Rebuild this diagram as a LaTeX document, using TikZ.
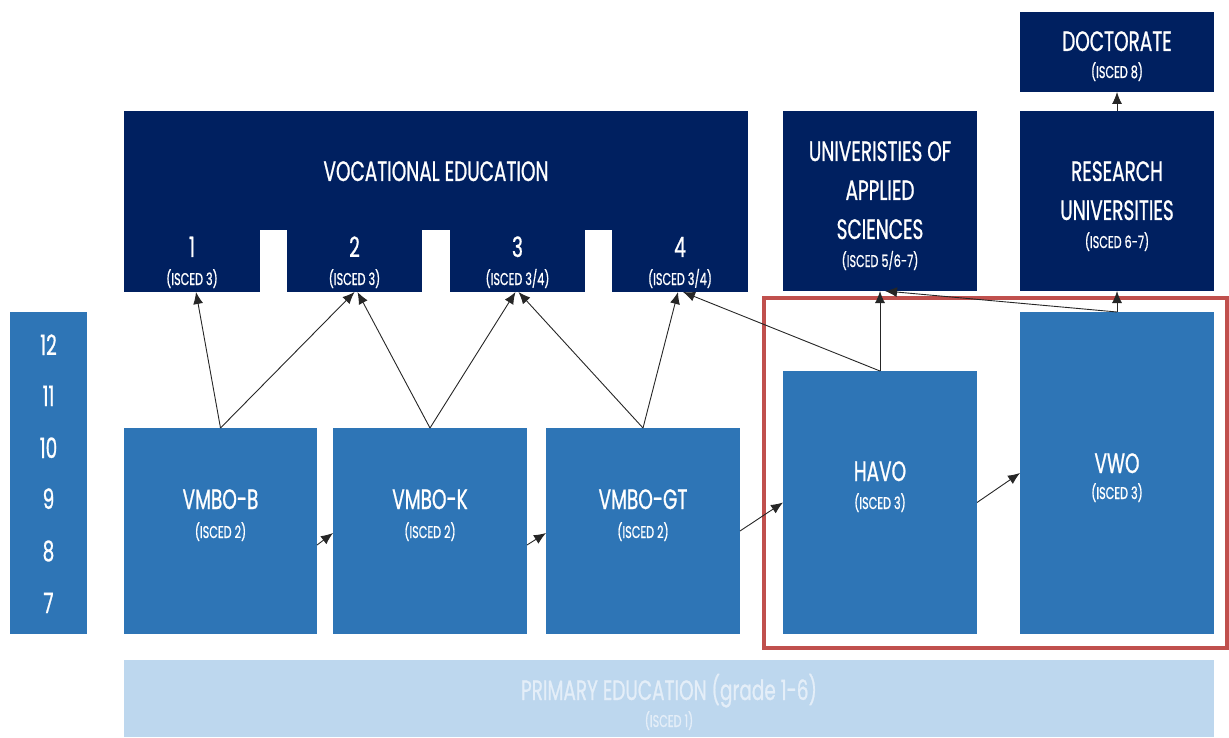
\documentclass[tikz,border=0pt]{standalone}
\usepackage{fontspec}
\setmainfont{Poppins}[FakeStretch=0.66,FakeBold=0.8,AutoFakeBold=0.8]
\usetikzlibrary{arrows.meta,calc}
\definecolor{navy}{HTML}{002060}
\definecolor{midblue}{HTML}{2E75B6}
\definecolor{lightblue}{HTML}{BDD7EE}
\definecolor{redbox}{HTML}{C0504D}
\definecolor{paletxt}{HTML}{E4EEF8}
\begin{document}
\begin{tikzpicture}[x=1pt,y=-1pt,
  navybox/.style={fill=navy,draw=none,inner sep=0,outer sep=0,anchor=north west},
  bluebox/.style={fill=midblue,draw=none,inner sep=0,outer sep=0,anchor=north west},
  bigtxt/.style={anchor=base,inner sep=0,text=white,font=\fontsize{28}{30}\selectfont},
  smalltxt/.style={anchor=base,inner sep=0,text=white,font=\fontsize{17}{19}\selectfont},
  conn/.style={draw=black!85,line width=0.9pt,-{Latex[length=12pt,width=10pt]}},
]
\useasboundingbox (0,0) rectangle (1229,738);
% grade bar
\node[bluebox,minimum width=77pt,minimum height=322pt] (grades) at (10,312) {};
\foreach \g/\yy in {12/355,11/406,10/458,9/509,8/561,7/613}
  \node[bigtxt] (g\g) at (48.5,\yy) {\g};
% vocational education
\node[navybox,minimum width=624pt,minimum height=119pt] (voc) at (124,111) {};
\node[navybox,minimum width=136pt,minimum height=63pt] (t1) at (124,229) {};
\node[navybox,minimum width=135pt,minimum height=63pt] (t2) at (287,229) {};
\node[navybox,minimum width=135pt,minimum height=63pt] (t3) at (450,229) {};
\node[navybox,minimum width=136pt,minimum height=63pt] (t4) at (612,229) {};
\node[bigtxt] (voct) at (436,181) {VOCATIONAL EDUCATION};
\node[bigtxt] (t1n) at (192,257) {1};
\node[bigtxt] (t2n) at (354.5,257) {2};
\node[bigtxt] (t3n) at (517.5,257) {3};
\node[bigtxt] (t4n) at (680,257) {4};
\node[smalltxt] (t1i) at (192,285) {(ISCED 3)};
\node[smalltxt] (t2i) at (354.5,285) {(ISCED 3)};
\node[smalltxt] (t3i) at (517.5,285) {(ISCED 3/4)};
\node[smalltxt] (t4i) at (680,285) {(ISCED 3/4)};
% universities of applied sciences
\node[navybox,minimum width=194pt,minimum height=180pt] (uas) at (783,111) {};
\node[bigtxt] (uas1) at (880,161) {UNIVERISTIES OF};
\node[bigtxt] (uas2) at (880,200) {APPLIED};
\node[bigtxt] (uas3) at (880,239) {SCIENCES};
\node[smalltxt] (uasi) at (880,267) {(ISCED 5/6-7)};
% research universities
\node[navybox,minimum width=194pt,minimum height=180pt] (ru) at (1020,111) {};
\node[bigtxt] (ru1) at (1117,181) {RESEARCH};
\node[bigtxt] (ru2) at (1117,220) {UNIVERSITIES};
\node[smalltxt] (rui) at (1117,248) {(ISCED 6-7)};
% doctorate
\node[navybox,minimum width=194pt,minimum height=80pt] (doc) at (1020,12) {};
\node[bigtxt] (doct) at (1117,51) {DOCTORATE};
\node[smalltxt] (doci) at (1117,78) {(ISCED 8)};
% secondary
\node[bluebox,minimum width=193pt,minimum height=206pt] (vb) at (124,428) {};
\node[bigtxt] (vbt) at (220.5,509) {VMBO-B};
\node[smalltxt] (vbi) at (220.5,538) {(ISCED 2)};
\node[bluebox,minimum width=194pt,minimum height=206pt] (vk) at (333,428) {};
\node[bigtxt] (vkt) at (430,509) {VMBO-K};
\node[smalltxt] (vki) at (430,538) {(ISCED 2)};
\node[bluebox,minimum width=194pt,minimum height=206pt] (vg) at (546,428) {};
\node[bigtxt] (vgt) at (643,509) {VMBO-GT};
\node[smalltxt] (vgi) at (643,538) {(ISCED 2)};
\node[bluebox,minimum width=194pt,minimum height=263pt] (havo) at (783,371) {};
\node[bigtxt] (havot) at (880,481) {HAVO};
\node[smalltxt] (havoi) at (880,509) {(ISCED 3)};
\node[bluebox,minimum width=194pt,minimum height=322pt] (vwo) at (1020,312) {};
\node[bigtxt] (vwot) at (1117,473) {VWO};
\node[smalltxt] (vwoi) at (1117,499) {(ISCED 3)};
% primary
\node[fill=lightblue,inner sep=0,outer sep=0,anchor=north west,minimum width=1090pt,minimum height=77pt] (prim) at (124,660) {};
\node[bigtxt,text=paletxt,font=\fontsize{28}{30}\selectfont] (primt) at (669,700) {PRIMARY EDUCATION (grade 1-6)};
\node[smalltxt,text=paletxt] (primi) at (669,727) {(ISCED 1)};
% red frame
\node[draw=redbox,line width=3.5pt,inner sep=0,outer sep=0,anchor=north west,minimum width=463pt,minimum height=350pt] (frame) at (764,298) {};
% connectors
\draw[conn] (vb.north) -- ([xshift=4pt]t1.south);
\draw[conn] (vb.north) -- (t2.south);
\draw[conn] (vk.north) -- ([xshift=3pt]t2.south);
\draw[conn] (vk.north) -- ([xshift=-2pt]t3.south);
\draw[conn] (vg.north) -- ([xshift=1pt]t3.south);
\draw[conn] (vg.north) -- ([xshift=-2pt]t4.south);
\draw[conn] (havo.north) -- ([xshift=3pt]t4.south);
\draw[conn] (havo.north) -- (uas.south);
\draw[conn] (vwo.north) -- ([xshift=5pt]uas.south);
\draw[conn] (vwo.north) -- (ru.south);
\draw[conn] (ru.north) -- (doc.south);
\draw[conn] ([yshift=-14pt]vb.east) -- ([yshift=-2pt]vk.west);
\draw[conn] ([yshift=-14pt]vk.east) -- ([yshift=-2pt]vg.west);
\draw[conn] (vg.east) -- (havo.west);
\draw[conn] (havo.east) -- (vwo.west);
\end{tikzpicture}
\end{document}
